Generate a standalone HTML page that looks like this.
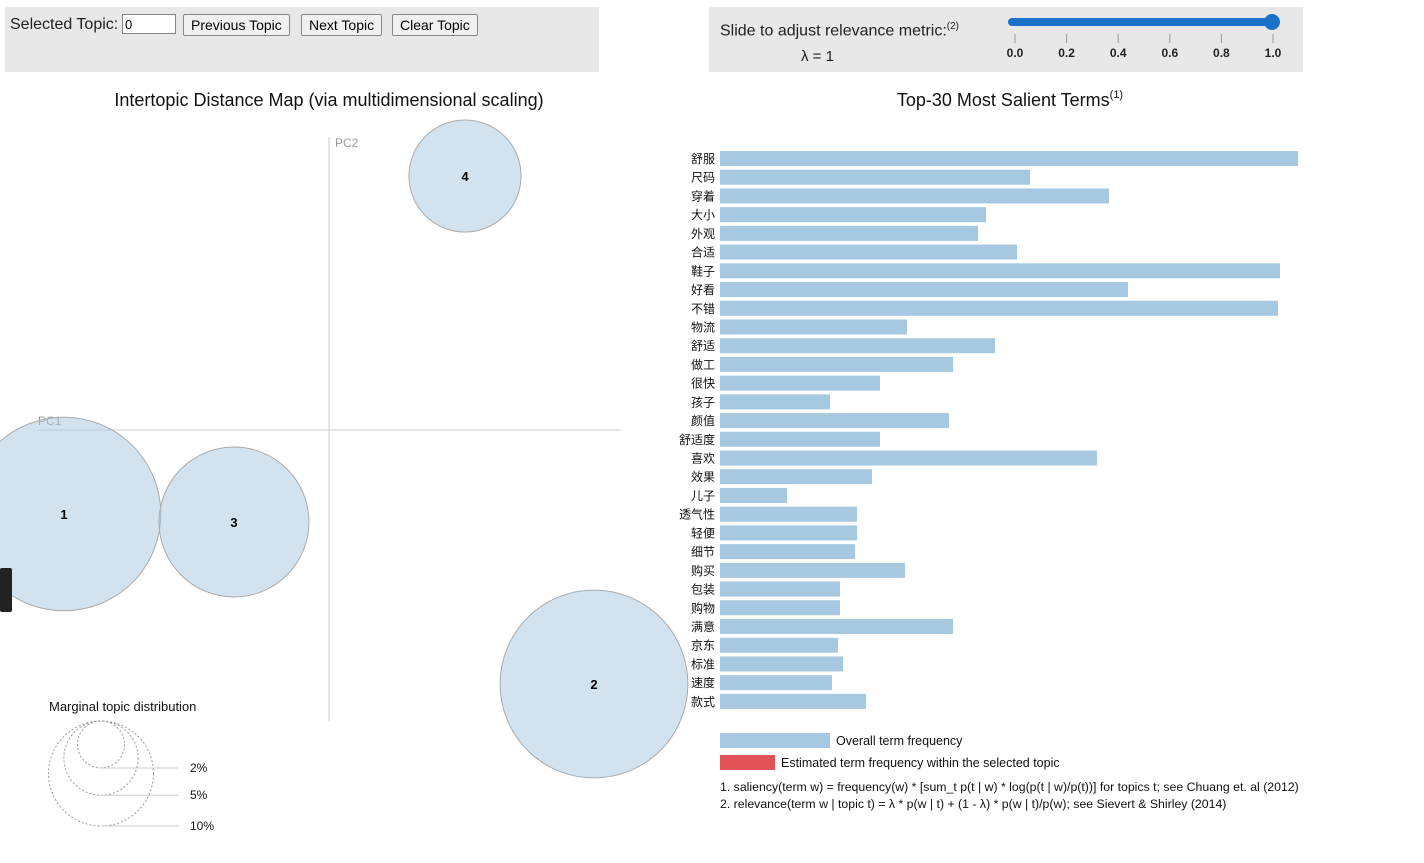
<!DOCTYPE html>
<html><head><meta charset="utf-8">
<style>
body{margin:0;width:1424px;height:863px;background:#fff;overflow:hidden;font-family:"Liberation Sans","Noto Sans CJK SC",sans-serif;}
#top-left{position:absolute;left:5px;top:7px;width:594px;height:65px;background:#e8e8e8;}
#top-right{position:absolute;left:709px;top:7px;width:594px;height:65px;background:#e8e8e8;}
.lbl{position:absolute;font-size:15px;color:#222;}
input{position:absolute;font-size:13px;width:48px;height:16px;padding:1px 2px;border:1px solid #888;}
button{position:absolute;font-size:14px;height:22px;padding:0 7px;background:#f0f0f0;border:1px solid #888;border-radius:2px;font-family:"Liberation Sans",sans-serif;}
svg{position:absolute;left:0;top:0;}
</style></head><body>
<div id="top-left">
<span class="lbl" style="left:5px;top:9px;font-size:16px">Selected Topic:</span>
<input style="left:117px;top:7px" value="0">
<button style="left:178px;top:7px">Previous Topic</button>
<button style="left:296px;top:7px">Next Topic</button>
<button style="left:387px;top:7px">Clear Topic</button>
</div>
<div id="top-right">
<span class="lbl" style="left:11px;top:14px;font-size:16px">Slide to adjust relevance metric:<sup style="font-size:10px">(2)</sup></span>
<span class="lbl" style="left:92px;top:41px;font-size:15px">λ = 1</span>
</div>
<svg id="chart" width="1424" height="863" xmlns="http://www.w3.org/2000/svg"></svg>
<script>
const topicIds=[1,2,3,4];
const pc1=[-0.265,0.265,-0.095,0.136];
const pc2=[-0.084,-0.254,-0.092,0.254];
const topicPct=[34,32,20.4,11.4];
const terms=["舒服","尺码","穿着","大小","外观","合适","鞋子","好看","不错","物流","舒适","做工","很快","孩子","颜值","舒适度","喜欢","效果","儿子","透气性","轻便","细节","购买","包装","购物","满意","京东","标准","速度","款式"];
const freqs=[578,310,389,266,258,297,560,408,558,187,275,233,160,110,229,160,377,152,67,137,137,135,185,120,120,233,118,123,112,146];
const sliderTicks=["0.0","0.2","0.4","0.6","0.8","1.0"];
const legendPct=[2,5,10];
const svg=document.getElementById('chart');
const NS="http://www.w3.org/2000/svg";
function mk(t,a,p){const e=document.createElementNS(NS,t);for(const k in a)e.setAttribute(k,a[k]);(p||svg).appendChild(e);return e;}
const xMap=v=>329+v*1000, yMap=v=>430-v*1000;
const rMap=p=>Math.sqrt(p)*16.6;
let t=mk('text',{x:329,y:106,'text-anchor':'middle','font-size':18,fill:'#111'});t.textContent="Intertopic Distance Map (via multidimensional scaling)";


t=mk('text',{x:1010,y:106,'text-anchor':'middle','font-size':18,fill:'#111'});t.innerHTML='Top-30 Most Salient Terms<tspan font-size="11" dy="-8">(1)</tspan>';


let a=mk('line',{x1:329,y1:137,x2:329,y2:721,stroke:'#ccc'});


a=mk('line',{x1:38,y1:430,x2:621,y2:430,stroke:'#ccc'});


t=mk('text',{x:335,y:147,'font-size':12,fill:'#999'});t.textContent='PC2';


t=mk('text',{x:38,y:425,'font-size':12,fill:'#999'});t.textContent='PC1';


topicIds.forEach((id,i)=>{
 const cx=xMap(pc1[i]),cy=yMap(pc2[i]),r=rMap(topicPct[i]);
 const c=mk('circle',{cx,cy,r,fill:'#a6c8e0','fill-opacity':0.5,stroke:'#aaa','stroke-width':1});
 
 
 const l=mk('text',{x:cx,y:cy+5,'text-anchor':'middle','font-size':13,'font-weight':'bold',fill:'#000'});l.textContent=id;
 
 
});
a=mk('rect',{x:0,y:568,width:12,height:44,rx:2,fill:'#222'});


t=mk('text',{x:49,y:711,'font-size':13,fill:'#111'});t.textContent='Marginal topic distribution';


legendPct.forEach((p,i)=>{
 const r=rMap(p);const by=721+2*r;
 const c=mk('circle',{cx:101,cy:721+r,r,fill:'none',stroke:'#999','stroke-dasharray':'2 2'});
 
 
 const ln=mk('line',{x1:101,y1:by,x2:179,y2:by,stroke:'#ccc'});
 
 
 const tx=mk('text',{x:190,y:by+4,'font-size':12,fill:'#111'});tx.textContent=p+'%';
 
 
});
const bx0=720, bScale=v=>v, rowY=i=>151+i*18.72;
terms.forEach((term,i)=>{
 const r=mk('rect',{x:bx0,y:rowY(i),width:bScale(freqs[i]),height:15,fill:'#a6c8e0'});
 
 
 const l=mk('text',{x:715,y:rowY(i)+12,'text-anchor':'end','font-size':12,fill:'#111'});l.textContent=term;
 
 
});
a=mk('rect',{x:720,y:733,width:110,height:15,fill:'#a6c8e0'});


t=mk('text',{x:836,y:745,'font-size':12.5,fill:'#111'});t.textContent='Overall term frequency';


a=mk('rect',{x:720,y:755,width:55,height:15,fill:'#e05256'});


t=mk('text',{x:781,y:767,'font-size':12.5,fill:'#111'});t.textContent='Estimated term frequency within the selected topic';


t=mk('text',{x:720,y:791,'font-size':12.3,fill:'#111'});t.textContent='1. saliency(term w) = frequency(w) * [sum_t p(t | w) * log(p(t | w)/p(t))] for topics t; see Chuang et. al (2012)';


t=mk('text',{x:720,y:808,'font-size':12.3,fill:'#111'});t.textContent='2. relevance(term w | topic t) = λ * p(w | t) + (1 - λ) * p(w | t)/p(w); see Sievert & Shirley (2014)';


a=mk('line',{x1:1012,y1:22,x2:1272,y2:22,stroke:'#1a73c8','stroke-width':8,'stroke-linecap':'round'});


a=mk('circle',{cx:1272,cy:22,r:8,fill:'#1a73c8'});


sliderTicks.forEach((s,i)=>{
 const x=1015+i*51.6;
 const l=mk('line',{x1:x,y1:34,x2:x,y2:43,stroke:'#999'});
 
 
 const tx=mk('text',{x,y:57,'text-anchor':'middle','font-size':12,'font-weight':'bold',fill:'#222'});tx.textContent=s;
 
 
});
</script>
</body></html>
